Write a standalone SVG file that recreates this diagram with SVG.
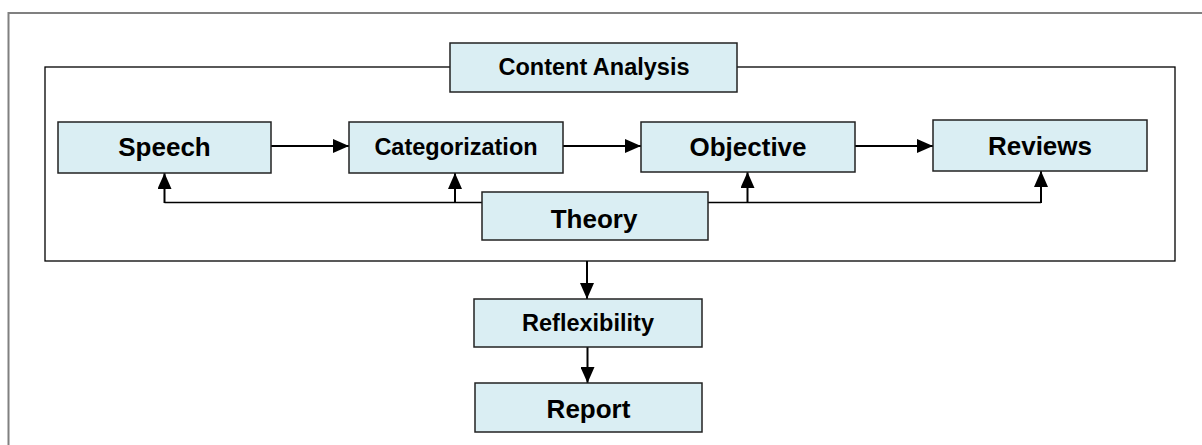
<svg xmlns="http://www.w3.org/2000/svg" width="1202" height="445" viewBox="0 0 1202 445">
<style>
.box{fill:#DAEEF3;stroke:#222;stroke-width:1.5}
.t{font-family:"Liberation Sans",Arial,sans-serif;font-weight:bold;fill:#000;text-anchor:middle}
.big{font-size:26px}
.mid{font-size:23.5px}
.ln{fill:none;stroke:#000;stroke-width:2}
.thin{fill:none;stroke:#000;stroke-width:1.3}
</style>
<defs>
<marker id="ah" markerUnits="userSpaceOnUse" markerWidth="16" markerHeight="14" refX="16" refY="7" orient="auto">
<path d="M0,0 L16,7 L0,14 Z" fill="#000"/>
</marker>
</defs>
<rect width="1202" height="445" fill="#fff"/>
<g id="frame">
<path d="M8.5,445 V13 H1202" fill="none" stroke="#808080" stroke-width="2"/>
</g>
<g id="content-area">
<rect x="45" y="67" width="1130" height="194" fill="none" stroke="#000" stroke-width="1.3"/>
</g>
<g id="connectors">
<line class="ln" x1="271" y1="146" x2="349" y2="146" marker-end="url(#ah)"/>
<line class="ln" x1="563" y1="146" x2="641" y2="146" marker-end="url(#ah)"/>
<line class="ln" x1="855" y1="146" x2="933" y2="146" marker-end="url(#ah)"/>
<path class="thin" d="M482,202.5 H164.5"/>
<path class="thin" d="M708,202.5 H1041"/>
<line class="ln" x1="164.5" y1="203" x2="164.5" y2="173" marker-end="url(#ah)"/>
<line class="ln" x1="455" y1="203" x2="455" y2="173" marker-end="url(#ah)"/>
<line class="ln" x1="747.5" y1="203" x2="747.5" y2="172" marker-end="url(#ah)"/>
<line class="ln" x1="1041" y1="203" x2="1041" y2="171" marker-end="url(#ah)"/>
<line class="ln" x1="587" y1="261" x2="587" y2="299" marker-end="url(#ah)"/>
<line class="ln" x1="587.5" y1="347" x2="587.5" y2="383" marker-end="url(#ah)"/>
</g>
<g id="content-analysis">
<rect class="box" x="450" y="43" width="287" height="49"/>
<text class="t mid" x="594" y="75">Content Analysis</text>
</g>
<g id="speech">
<rect class="box" x="58" y="122" width="213" height="51"/>
<text class="t big" x="164.5" y="155.5">Speech</text>
</g>
<g id="categorization">
<rect class="box" x="349" y="122" width="214" height="51"/>
<text class="t mid" x="456" y="155">Categorization</text>
</g>
<g id="objective">
<rect class="box" x="641" y="122" width="214" height="50"/>
<text class="t big" x="748" y="156">Objective</text>
</g>
<g id="reviews">
<rect class="box" x="933" y="120" width="214" height="51"/>
<text class="t big" x="1040" y="154.5">Reviews</text>
</g>
<g id="theory">
<rect class="box" x="482" y="192" width="226" height="48"/>
<text class="t big" x="594" y="227.5">Theory</text>
</g>
<g id="reflexibility">
<rect class="box" x="474" y="299" width="228" height="48"/>
<text class="t mid" x="588" y="331">Reflexibility</text>
</g>
<g id="report">
<rect class="box" x="475" y="383" width="227" height="49"/>
<text class="t big" x="588.5" y="418">Report</text>
</g>
</svg>
